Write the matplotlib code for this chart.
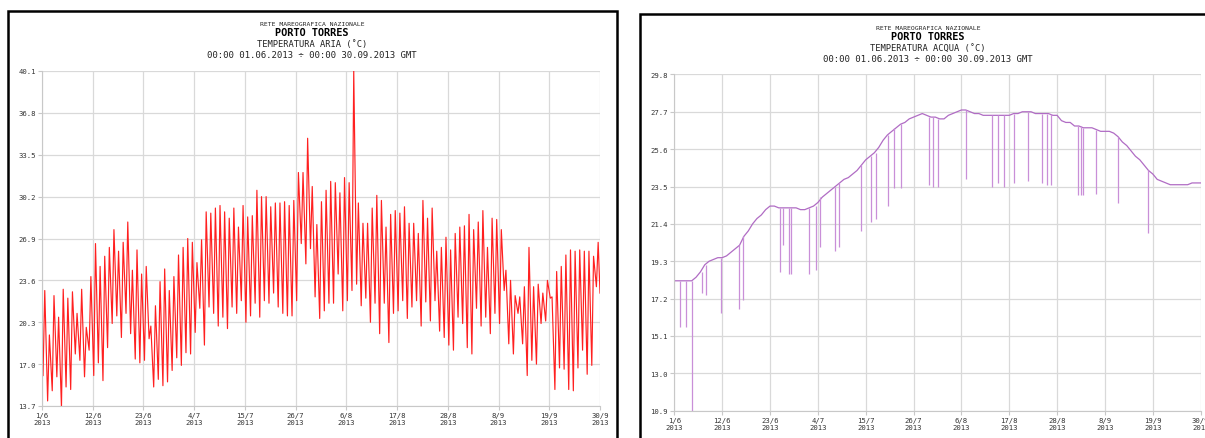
import numpy as np
import matplotlib
matplotlib.use("Agg")
import matplotlib.pyplot as plt
from matplotlib.patches import Rectangle

# --- data (day 0 = 01.06.2013) ---
tick_days = [0, 11, 22, 33, 44, 55, 66, 77, 88, 99, 110, 121]
tick_labels = ["1/6\n2013", "12/6\n2013", "23/6\n2013", "4/7\n2013", "15/7\n2013",
               "26/7\n2013", "6/8\n2013", "17/8\n2013", "28/8\n2013", "8/9\n2013",
               "19/9\n2013", "30/9\n2013"]
air_yticks = [13.7, 17.0, 20.3, 23.6, 26.9, 30.2, 33.5, 36.8, 40.1]
water_yticks = [10.9, 13.0, 15.1, 17.2, 19.3, 21.4, 23.5, 25.6, 27.7, 29.8]

# air temperature: daily maximum and minimum (deg C)
air_high = [22.8, 19.3, 22.4, 20.7, 22.9, 22.2, 22.7, 21.0, 22.9, 19.9,
            23.9, 26.5, 24.7, 25.5, 26.2, 27.6, 25.9, 26.6, 28.2, 24.4,
            26.0, 24.1, 24.7, 20.0, 21.6, 23.5, 24.5, 22.8, 23.9, 25.6,
            26.2, 26.9, 26.6, 25.0, 26.8, 29.0, 28.9, 29.3, 29.5, 29.0,
            28.5, 29.3, 27.8, 29.5, 28.6, 28.7, 30.7, 30.2, 30.2, 29.4,
            29.7, 29.7, 29.8, 29.5, 29.9, 32.1, 32.1, 34.8, 31.0, 28.0,
            29.8, 30.7, 31.4, 31.3, 30.5, 31.7, 31.3, 40.1, 29.7, 28.1,
            28.1, 29.3, 30.3, 29.9, 27.8, 28.8, 29.1, 28.9, 29.4, 28.1,
            28.1, 27.3, 29.9, 28.5, 29.3, 25.9, 26.2, 27.0, 26.0, 27.3,
            27.8, 27.9, 28.8, 27.6, 28.2, 29.1, 26.2, 28.5, 28.4, 27.6,
            24.4, 23.6, 22.4, 22.3, 23.1, 26.2, 23.1, 23.3, 22.6, 23.6,
            22.3, 24.3, 24.7, 25.6, 26.0, 25.9, 26.0, 25.9, 25.9, 25.5,
            26.6]
air_low = [16.1, 14.1, 14.9, 16.0, 13.6, 15.2, 15.0, 17.8, 17.3, 16.0,
           18.1, 16.1, 17.1, 15.7, 18.3, 20.2, 20.8, 19.1, 21.0, 19.4,
           17.4, 17.1, 17.3, 19.0, 15.2, 15.8, 15.3, 15.6, 16.5, 17.5,
           16.9, 17.9, 17.8, 19.5, 21.4, 18.5, 21.5, 21.0, 20.0, 20.7,
           19.8, 21.5, 21.0, 22.0, 20.3, 20.8, 21.8, 20.7, 22.0, 21.8,
           22.6, 21.5, 21.0, 20.8, 20.8, 22.0, 26.5, 24.9, 26.1, 22.3,
           20.6, 21.2, 21.8, 21.8, 24.1, 21.2, 22.0, 22.8, 23.3, 21.6,
           22.2, 20.3, 21.8, 19.4, 21.8, 18.7, 21.0, 21.2, 22.0, 20.6,
           21.5, 22.0, 20.0, 21.9, 20.4, 22.0, 19.6, 19.1, 18.5, 18.1,
           20.7, 20.2, 18.3, 17.8, 21.4, 20.0, 20.7, 19.4, 21.0, 20.2,
           22.8, 18.6, 17.8, 21.0, 18.6, 16.1, 17.3, 17.0, 20.2, 20.4,
           22.2, 15.0, 16.7, 16.6, 15.0, 14.9, 16.7, 18.1, 16.2, 16.9,
           23.1]
air_end = 22.6

# water temperature: daily level (deg C) and short downward drops
water_base = [18.2, 18.2, 18.2, 18.2, 18.2, 18.4, 18.7, 19.1, 19.3, 19.4,
              19.5, 19.5, 19.6, 19.8, 20.0, 20.2, 20.7, 21.0, 21.4, 21.7,
              21.9, 22.2, 22.4, 22.4, 22.3, 22.3, 22.3, 22.3, 22.3, 22.2,
              22.2, 22.3, 22.4, 22.6, 22.9, 23.1, 23.3, 23.5, 23.7, 23.9,
              24.0, 24.2, 24.4, 24.7, 25.0, 25.2, 25.4, 25.7, 26.1, 26.4,
              26.6, 26.8, 27.0, 27.1, 27.3, 27.4, 27.5, 27.6, 27.5, 27.4,
              27.4, 27.3, 27.3, 27.5, 27.6, 27.7, 27.8, 27.8, 27.7, 27.6,
              27.6, 27.5, 27.5, 27.5, 27.5, 27.5, 27.5, 27.5, 27.6, 27.6,
              27.7, 27.7, 27.7, 27.6, 27.6, 27.6, 27.6, 27.5, 27.5, 27.2,
              27.1, 27.1, 26.9, 26.9, 26.8, 26.8, 26.8, 26.7, 26.6, 26.6,
              26.6, 26.5, 26.3, 26.0, 25.8, 25.5, 25.2, 25.0, 24.7, 24.4,
              24.2, 23.9, 23.8, 23.7, 23.6, 23.6, 23.6, 23.6, 23.6, 23.7,
              23.7, 23.7]
drop_days = [1.3, 2.8, 4.0, 6.3, 7.3, 10.7, 14.9, 15.7, 24.3, 25.1, 26.4, 26.8,
             31.0, 32.5, 33.5, 36.9, 37.9, 42.9, 45.1, 46.4, 49.2, 50.6, 52.1,
             58.6, 59.5, 60.7, 67.1, 73.1, 74.4, 75.8, 78.1, 81.2, 84.5, 85.6,
             86.5, 92.9, 93.4, 93.9, 96.9, 101.9, 108.8]
drop_vals = [15.6, 15.6, 10.9, 17.5, 17.4, 16.4, 16.6, 17.1, 18.7, 20.2, 18.6, 18.6,
             18.6, 18.8, 20.1, 19.9, 20.1, 21.0, 21.5, 21.7, 22.4, 23.4, 23.4,
             23.6, 23.5, 23.5, 23.9, 23.5, 23.7, 23.5, 23.7, 23.8, 23.7, 23.6,
             23.6, 23.0, 23.0, 23.0, 23.1, 22.6, 20.9]

W, H = 1205, 439
fig = plt.figure(figsize=(W / 100, H / 100), dpi=100, facecolor="white")
mono = "DejaVu Sans Mono"


def px_axes(x0, y0, x1, y1):
    # pixel box (top-left origin) -> figure axes
    return fig.add_axes([x0 / W, 1 - y1 / H, (x1 - x0) / W, (y1 - y0) / H])


def style(ax, yticks):
    ax.set_xlim(0, 121)
    ax.set_xticks(tick_days)
    ax.set_xticklabels(tick_labels, fontsize=5.2, family=mono, linespacing=1.25)
    ax.set_ylim(yticks[0], yticks[-1])
    ax.set_yticks(yticks)
    ax.set_yticklabels([f"{v:.1f}" for v in yticks], fontsize=5.2, family=mono)
    ax.grid(True, color="#d9d9d9", lw=0.9)
    ax.set_axisbelow(True)
    for s in ["top", "right"]:
        ax.spines[s].set_visible(False)
    for s in ["left", "bottom"]:
        ax.spines[s].set_color("#c8c8c8")
    ax.tick_params(colors="#c8c8c8", length=3, width=0.8, pad=1.5,
                   labelcolor="#333333")


def titles(cx, y0, quantity):
    fig.text(cx / W, 1 - y0 / H, "RETE MAREOGRAFICA NAZIONALE", ha="center",
             va="center", fontsize=4.6, family=mono, color="#222222")
    fig.text(cx / W, 1 - (y0 + 9.5) / H, "PORTO TORRES", ha="center",
             va="center", fontsize=7.4, family=mono, weight="bold")
    fig.text(cx / W, 1 - (y0 + 20.5) / H, quantity, ha="center",
             va="center", fontsize=6.3, family=mono, color="#222222")
    fig.text(cx / W, 1 - (y0 + 32) / H,
             "00:00 01.06.2013 \u00f7 00:00 30.09.2013 GMT", ha="center",
             va="center", fontsize=6.5, family=mono, color="#222222")


# --- left panel: air temperature ---
ax1 = px_axes(42, 72, 600, 407)
t_air, v_air = [], []
for d in range(len(air_high)):
    t_air += [d + 0.22, d + 0.6]
    v_air += [air_low[d], air_high[d]]
t_air.append(121)
v_air.append(air_end)
ax1.plot(t_air, v_air, color="#ff2020", lw=0.85)
style(ax1, air_yticks)
titles(312, 24, "TEMPERATURA ARIA (\u02daC)")

# --- right panel: water temperature ---
ax2 = px_axes(674.3, 75.4, 1200.7, 411.7)
days = np.arange(len(water_base))
ax2.plot(days, water_base, color="#b06cc4", lw=0.9)
tops = [water_base[int(round(t))] for t in drop_days]
ax2.vlines(drop_days, drop_vals, tops, color="#c98fd8", lw=0.9)
style(ax2, water_yticks)
titles(928, 28, "TEMPERATURA ACQUA (\u02daC)")

# panel frames
fig.add_artist(Rectangle((8 / W, -0.05), 609 / W, 1.05 - 12 / H,
                         transform=fig.transFigure, fill=False, lw=1.8,
                         ec="black", clip_on=False))
fig.add_artist(Rectangle((640 / W, -0.05), 1.0, 1.05 - 15 / H,
                         transform=fig.transFigure, fill=False, lw=1.8,
                         ec="black", clip_on=False))

fig.savefig("out.png", dpi=100, facecolor="white")
